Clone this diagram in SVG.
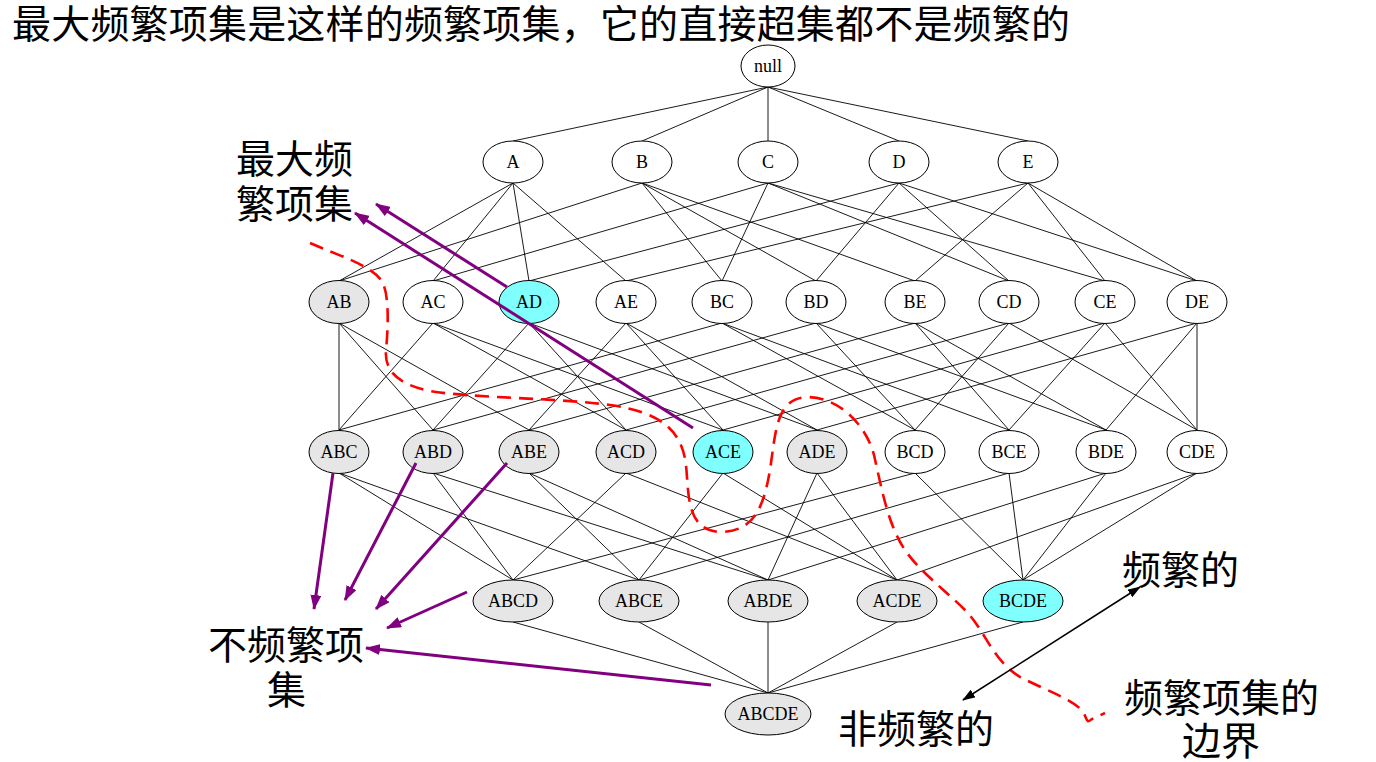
<svg xmlns="http://www.w3.org/2000/svg" width="1376" height="762" viewBox="0 0 1376 762">
<defs>
<style>
.e{stroke:#000;stroke-width:0.9;fill:none}
.n ellipse{stroke:#000;stroke-width:1}
.w{fill:#fff}.g{fill:#e6e6e6}.c{fill:#80ffff}
.n text{font-family:"Liberation Serif","Times New Roman",serif;font-size:18px;text-anchor:middle;fill:#000}
.cj{font-family:"Noto Sans CJK SC","Noto Sans",sans-serif;font-size:39px;fill:#000}
.pa{stroke:#800080;stroke-width:3;fill:none;marker-end:url(#pm)}
.bd{stroke:red;stroke-width:2.6;fill:none;stroke-dasharray:14 8}
</style>
<marker id="pm" markerUnits="userSpaceOnUse" markerWidth="15" markerHeight="11" refX="14" refY="5.5" orient="auto"><path d="M0,0 L15,5.5 L0,11 z" fill="#800080"/></marker>
<marker id="bm" markerUnits="userSpaceOnUse" markerWidth="13" markerHeight="9" refX="12" refY="4.5" orient="auto-start-reverse"><path d="M0,0 L13,4.5 L0,9 z" fill="#000"/></marker>
</defs>
<rect width="1376" height="762" fill="#fff"/>
<text class="cj" x="12" y="38" textLength="1058">最大频繁项集是这样的频繁项集，它的直接超集都不是频繁的</text>
<g id="edges">
<path class="e" d="M768,87L513,141M768,87L642,141M768,87L768,141M768,87L899,141M768,87L1028,141"/>
<path class="e" d="M513,183L339,281M513,183L433,281M513,183L529,281M513,183L626,281
M642,183L339,281M642,183L722,281M642,183L816,281M642,183L915,281
M768,183L433,281M768,183L722,281M768,183L1009,281M768,183L1105,281
M899,183L529,281M899,183L816,281M899,183L1009,281M899,183L1197,281
M1028,183L626,281M1028,183L915,281M1028,183L1105,281M1028,183L1197,281"/>
<path class="e" d="M339,323L339,430M339,323L433,430M339,323L529,430
M433,323L339,430M433,323L626,430M433,323L723,430
M529,323L433,430M529,323L626,430M529,323L817,430
M626,323L529,430M626,323L723,430M626,323L817,430
M722,323L339,430M722,323L915,430M722,323L1009,430
M816,323L433,430M816,323L915,430M816,323L1106,430
M915,323L529,430M915,323L1009,430M915,323L1106,430
M1009,323L626,430M1009,323L915,430M1009,323L1197,430
M1105,323L723,430M1105,323L1009,430M1105,323L1197,430
M1197,323L817,430M1197,323L1106,430M1197,323L1197,430"/>
<path class="e" d="M339,473L513,580M339,473L639,580
M433,473L513,580M433,473L768,580
M529,473L639,580M529,473L768,580
M626,473L513,580M626,473L897,580
M723,473L639,580M723,473L897,580
M817,473L768,580M817,473L897,580
M915,473L513,580M915,473L1023,580
M1009,473L639,580M1009,473L1023,580
M1106,473L768,580M1106,473L1023,580
M1197,473L897,580M1197,473L1023,580"/>
<path class="e" d="M513,622L768,693M639,622L768,693M768,622L768,693M897,622L768,693M1023,622L768,693"/>
</g>
<g id="n-null" class="n"><ellipse class="w" cx="768" cy="66" rx="27" ry="21"/><text x="768" y="72">null</text></g>
<g id="n-A" class="n"><ellipse class="w" cx="513" cy="162" rx="30" ry="21"/><text x="513" y="168">A</text></g>
<g id="n-B" class="n"><ellipse class="w" cx="642" cy="162" rx="30" ry="21"/><text x="642" y="168">B</text></g>
<g id="n-C" class="n"><ellipse class="w" cx="768" cy="162" rx="30" ry="21"/><text x="768" y="168">C</text></g>
<g id="n-D" class="n"><ellipse class="w" cx="899" cy="162" rx="30" ry="21"/><text x="899" y="168">D</text></g>
<g id="n-E" class="n"><ellipse class="w" cx="1028" cy="162" rx="30" ry="21"/><text x="1028" y="168">E</text></g>
<g id="n-AB" class="n"><ellipse class="g" cx="339" cy="302" rx="30" ry="21.5"/><text x="339" y="308">AB</text></g>
<g id="n-AC" class="n"><ellipse class="w" cx="433" cy="302" rx="30" ry="21.5"/><text x="433" y="308">AC</text></g>
<g id="n-AD" class="n"><ellipse class="c" cx="529" cy="302" rx="30" ry="21.5"/><text x="529" y="308">AD</text></g>
<g id="n-AE" class="n"><ellipse class="w" cx="626" cy="302" rx="30" ry="21.5"/><text x="626" y="308">AE</text></g>
<g id="n-BC" class="n"><ellipse class="w" cx="722" cy="302" rx="30" ry="21.5"/><text x="722" y="308">BC</text></g>
<g id="n-BD" class="n"><ellipse class="w" cx="816" cy="302" rx="30" ry="21.5"/><text x="816" y="308">BD</text></g>
<g id="n-BE" class="n"><ellipse class="w" cx="915" cy="302" rx="30" ry="21.5"/><text x="915" y="308">BE</text></g>
<g id="n-CD" class="n"><ellipse class="w" cx="1009" cy="302" rx="30" ry="21.5"/><text x="1009" y="308">CD</text></g>
<g id="n-CE" class="n"><ellipse class="w" cx="1105" cy="302" rx="30" ry="21.5"/><text x="1105" y="308">CE</text></g>
<g id="n-DE" class="n"><ellipse class="w" cx="1197" cy="302" rx="30" ry="21.5"/><text x="1197" y="308">DE</text></g>
<g id="n-ABC" class="n"><ellipse class="g" cx="339" cy="452" rx="30" ry="21.5"/><text x="339" y="458">ABC</text></g>
<g id="n-ABD" class="n"><ellipse class="g" cx="433" cy="452" rx="30" ry="21.5"/><text x="433" y="458">ABD</text></g>
<g id="n-ABE" class="n"><ellipse class="g" cx="529" cy="452" rx="30" ry="21.5"/><text x="529" y="458">ABE</text></g>
<g id="n-ACD" class="n"><ellipse class="g" cx="626" cy="452" rx="30" ry="21.5"/><text x="626" y="458">ACD</text></g>
<g id="n-ACE" class="n"><ellipse class="c" cx="723" cy="452" rx="30" ry="21.5"/><text x="723" y="458">ACE</text></g>
<g id="n-ADE" class="n"><ellipse class="g" cx="817" cy="452" rx="30" ry="21.5"/><text x="817" y="458">ADE</text></g>
<g id="n-BCD" class="n"><ellipse class="w" cx="915" cy="452" rx="30" ry="21.5"/><text x="915" y="458">BCD</text></g>
<g id="n-BCE" class="n"><ellipse class="w" cx="1009" cy="452" rx="30" ry="21.5"/><text x="1009" y="458">BCE</text></g>
<g id="n-BDE" class="n"><ellipse class="w" cx="1106" cy="452" rx="30" ry="21.5"/><text x="1106" y="458">BDE</text></g>
<g id="n-CDE" class="n"><ellipse class="w" cx="1197" cy="452" rx="30" ry="21.5"/><text x="1197" y="458">CDE</text></g>
<g id="n-ABCD" class="n"><ellipse class="g" cx="513" cy="601" rx="40" ry="21"/><text x="513" y="607">ABCD</text></g>
<g id="n-ABCE" class="n"><ellipse class="g" cx="639" cy="601" rx="40" ry="21"/><text x="639" y="607">ABCE</text></g>
<g id="n-ABDE" class="n"><ellipse class="g" cx="768" cy="601" rx="40" ry="21"/><text x="768" y="607">ABDE</text></g>
<g id="n-ACDE" class="n"><ellipse class="g" cx="897" cy="601" rx="40" ry="21"/><text x="897" y="607">ACDE</text></g>
<g id="n-BCDE" class="n"><ellipse class="c" cx="1023" cy="601" rx="40" ry="21"/><text x="1023" y="607">BCDE</text></g>
<g id="n-ABCDE" class="n"><ellipse class="g" cx="768" cy="714" rx="43" ry="21"/><text x="768" y="720">ABCDE</text></g>
<g id="border">
<path class="bd" d="M310,243 C340,256 370,265 381,280 C390,292 388,330 386,350 C384,372 400,385 430,391 C470,398 560,398 610,405 C660,412 682,430 686,465 C689,495 686,530 720,532 C755,532 764,505 770,470 C776,430 776,398 808,397 C840,398 866,425 874,455 C882,490 888,525 905,550 C920,572 945,590 965,610 C985,630 992,660 1020,677 C1045,690 1075,700 1083,712 C1088,720 1086,724 1092,719 L1105,713"/>
</g>
<g id="arrows">
<line class="pa" x1="507" y1="287" x2="376" y2="204"/>
<line class="pa" x1="693" y1="428" x2="355" y2="213"/>
<line class="pa" x1="333" y1="473" x2="314" y2="609"/>
<line class="pa" x1="416" y1="463" x2="345" y2="600"/>
<line class="pa" x1="507" y1="463" x2="376" y2="609"/>
<line class="pa" x1="467" y1="592" x2="387" y2="628"/>
<line class="pa" x1="711" y1="685" x2="366" y2="648"/>
<line x1="963" y1="700" x2="1140" y2="587" stroke="#000" stroke-width="1.6" marker-start="url(#bm)" marker-end="url(#bm)"/>
</g>
<g id="labels">
<text class="cj"><tspan x="236" y="173">最大频</tspan><tspan x="236" y="218">繁项集</tspan></text>
<text class="cj"><tspan x="208" y="659">不频繁项</tspan><tspan x="267" y="704">集</tspan></text>
<text class="cj" x="1122" y="584">频繁的</text>
<text class="cj" x="838" y="743">非频繁的</text>
<text class="cj"><tspan x="1124" y="712">频繁项集的</tspan><tspan x="1182" y="755">边界</tspan></text>
</g>
</svg>
